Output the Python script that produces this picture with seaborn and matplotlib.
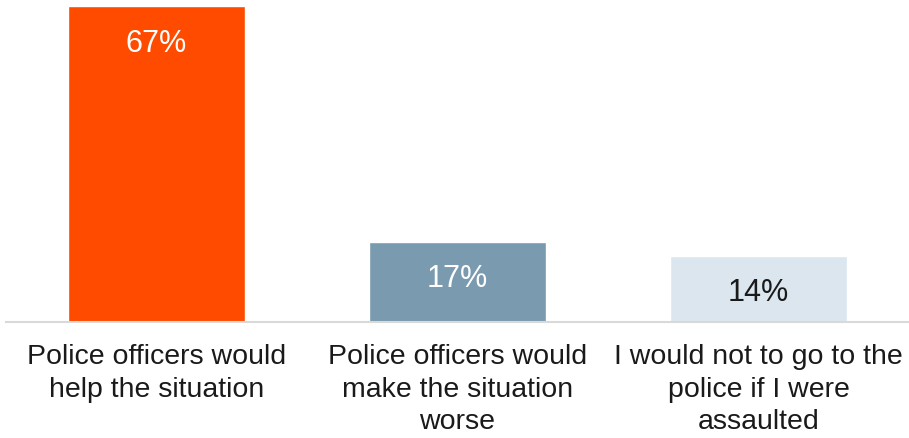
import pandas as pd
import seaborn as sns
import matplotlib.pyplot as plt

categories = ['Police officers would\nhelp the situation',
              'Police officers would\nmake the situation\nworse',
              'I would not to go to the\npolice if I were\nassaulted']
values = [67, 17, 14]
colors = ['#FF4B00', '#7A9AAF', '#DCE6EF']
label_colors = ['white', 'white', '#1a1a1a']

df = pd.DataFrame({'categoria': categories, 'valore': values})

sns.set_style('white')
plt.rcParams['font.family'] = ['Liberation Sans', 'DejaVu Sans']

fig = plt.figure(figsize=(9.09, 4.38), dpi=100)
ax = fig.add_axes([6 / 909, 1 - 322 / 438, 903 / 909, 316 / 438])

sns.barplot(data=df, x='categoria', y='valore', hue='categoria', palette=colors,
            width=0.585, legend=False, ax=ax, saturation=1)

# etichette dei valori dentro le barre
for i, v in enumerate(values):
    ax.annotate(f'{v}%', xy=(i, v), xytext=(0, -27), textcoords='offset points',
                ha='center', va='center', fontsize=22, color=label_colors[i])

ax.set_xlim(-0.5, 2.5)
ax.set_ylim(0, 67)
ax.set_xlabel('')
ax.set_ylabel('')
ax.set_yticks([])
ax.tick_params(axis='x', length=0, pad=16, labelsize=20.5, labelcolor='#1a1a1a')
for lbl in ax.get_xticklabels():
    lbl.set_linespacing(1.33)

for s in ['top', 'right', 'left']:
    ax.spines[s].set_visible(False)
ax.spines['bottom'].set_color('#D9D9D9')
ax.spines['bottom'].set_linewidth(1.5)

plt.savefig('out.png', dpi=100)
